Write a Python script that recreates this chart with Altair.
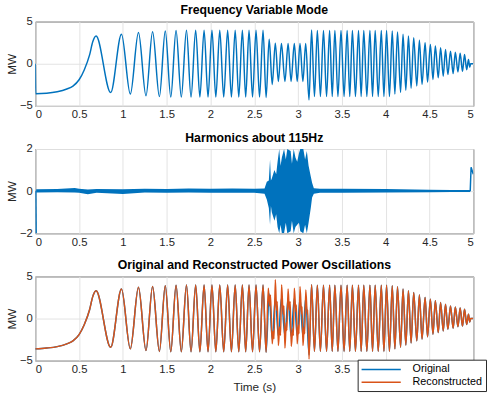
import altair as alt
import pandas as pd

BLUE = "#0072BD"
ORANGE = "#D95319"
FONT = "Liberation Sans"

# ---------------- Panel 1: Frequency variable mode -------------
rise_t = [0.0, 0.005, 0.13, 0.25, 0.36, 0.43, 0.50, 0.56, 0.62, 0.656]
rise_v = [0.0, -3.55, -3.5, -3.33, -3.0, -2.65, -1.9, -0.7, 1.05, 2.6]

peak_t = [0.694, 0.984, 1.178, 1.339, 1.484, 1.607, 1.726, 1.831, 1.927, 2.017,
          2.106, 2.196, 2.282, 2.364, 2.44, 2.52, 2.60, 2.67, 2.74, 2.81,
          2.886, 2.957, 3.022, 3.087, 3.154, 3.22, 3.29, 3.36, 3.42, 3.49,
          3.56, 3.62, 3.69, 3.75, 3.82, 3.88, 3.95, 4.01, 4.075, 4.135,
          4.198, 4.26, 4.32, 4.385, 4.45, 4.51, 4.567, 4.627, 4.683, 4.74,
          4.795, 4.85, 4.90, 4.945]
peak_v = [3.3, 3.5, 3.7, 3.8, 3.9, 3.95, 3.97, 3.97, 3.97, 3.97,
          3.97, 3.97, 3.97, 3.97, 3.97, 3.97, 3.97, 2.9, 2.45, 2.4,
          2.4, 2.4, 2.4, 2.4, 4.0, 3.95, 3.95, 3.95, 3.95, 3.95,
          3.95, 3.95, 3.95, 3.95, 3.95, 3.95, 3.95, 3.95, 3.9, 3.76,
          3.5, 3.3, 3.1, 2.8, 2.5, 2.3, 2.1, 1.9, 1.7, 1.5,
          1.36, 1.24, 1.1, 0.5]

trough_t = [0.861, 1.085, 1.264, 1.417, 1.547, 1.667, 1.778, 1.879, 1.972, 2.061,
            2.151, 2.239, 2.323, 2.402, 2.48, 2.56, 2.635, 2.705, 2.775, 2.85,
            2.92, 2.99, 3.055, 3.125, 3.187, 3.255, 3.325, 3.39, 3.455, 3.525,
            3.59, 3.655, 3.72, 3.785, 3.85, 3.915, 3.98, 4.043, 4.105, 4.17,
            4.23, 4.29, 4.355, 4.415, 4.478, 4.54, 4.60, 4.657, 4.71, 4.77,
            4.825, 4.877, 4.925, 4.96]
trough_v = [-3.42, -3.6, -3.8, -3.9, -3.95, -3.95, -3.95, -3.95, -3.95, -3.95,
            -3.95, -3.95, -3.95, -3.95, -3.95, -3.95, -4.0, -2.45, -2.1, -2.1,
            -2.1, -2.1, -2.1, -4.3, -3.9, -3.9, -3.9, -3.9, -3.9, -3.9,
            -3.9, -3.9, -3.9, -3.9, -3.9, -3.9, -3.9, -3.9, -3.6, -3.4,
            -3.14, -2.9, -2.64, -2.44, -2.17, -1.86, -1.66, -1.47, -1.28, -1.16,
            -0.97, -0.9, -0.7, -0.4]

tail_t = [4.97, 5.0]
tail_v = [0.0, 0.0]

# ---------------- Panel 2: Harmonics about 115 Hz (band envelope) -------------------
harm_t = [0.01, 0.25, 0.45, 0.5, 0.6, 0.7, 1.0, 1.25, 1.5, 1.75, 2.0, 2.25, 2.5,
          2.617, 2.643, 2.666, 2.68, 2.69, 2.70, 2.73, 2.75, 2.766, 2.785, 2.80,
          2.815, 2.84, 2.86, 2.877, 2.915, 2.93, 2.95, 2.97, 2.99, 3.01, 3.025,
          3.06, 3.08, 3.10, 3.12, 3.145, 3.16, 3.18, 3.25,
          3.5, 4.0, 4.5, 4.75, 4.965]
harm_hi = [0.09, 0.1, 0.15, 0.11, 0.08, 0.1, 0.09, 0.11, 0.1, 0.12, 0.11, 0.12, 0.11,
           0.13, 0.45, 0.5, 1.5, 0.5, 0.6, 1.0, 0.8, 1.4, 2.0, 1.2,
           1.6, 2.0, 1.5, 2.0, 1.9, 1.3, 2.0, 1.6, 1.4, 1.8, 2.0,
           2.0, 1.5, 1.9, 1.2, 0.7, 0.4, 0.14, 0.11,
           0.11, 0.1, 0.07, 0.06, 0.05]
harm_lo = [-0.06, -0.05, -0.06, -0.08, -0.15, -0.08, -0.13, -0.06, -0.08, -0.06, -0.08, -0.08, -0.08,
           -0.12, -0.4, -0.8, -1.6, -0.7, -1.0, -1.4, -1.1, -1.7, -2.0, -1.6,
           -2.0, -2.0, -1.5, -2.0, -1.9, -1.4, -2.0, -1.7, -1.6, -1.5, -1.9,
           -2.0, -1.6, -2.0, -1.5, -0.8, -0.3, -0.12, -0.08,
           -0.08, -0.06, -0.05, -0.04, -0.04]
harm_start_t = [0.006, 0.011]
harm_start_v = [0.02, -2.5]
harm_end_t = [4.965, 4.975, 5.0]
harm_end_v = [0.0, 1.13, 0.8]

# ---------------- Panel 3: reconstructed deviations in the disturbed window ----------
orig3_start_t = [0.0]
orig3_start_v = [-3.6]
recon_burst_t = [2.66, 2.675, 2.685, 2.705, 2.715, 2.725, 2.74, 2.755, 2.762, 2.775,
                 2.79, 2.80, 2.812, 2.83, 2.838, 2.85, 2.865, 2.872, 2.886, 2.90,
                 2.91, 2.922, 2.94, 2.946, 2.957, 2.975, 2.98, 2.99, 3.005, 3.01,
                 3.022, 3.04, 3.045, 3.056, 3.07, 3.075, 3.088, 3.105, 3.11, 3.125]
recon_burst_v = [3.6, 1.5, 2.8, -3.0, -1.5, -2.4, 4.6, 1.0, 2.0, -3.2,
                 -1.0, -2.0, 4.0, 0.5, 1.5, -3.5, -0.5, -1.4, 3.5, 1.0,
                 2.0, -3.3, -1.2, -2.0, 3.6, 0.8, 1.6, -3.0, -0.8, -1.8,
                 3.8, 0.5, 1.4, -3.2, -1.0, -1.8, 3.4, 0.5, 1.0, -4.8]

x_ticks = [0, 0.5, 1, 1.5, 2, 2.5, 3, 3.5, 4, 4.5, 5]


def mode_frame(with_spike=True):
    t = list(peak_t) + list(trough_t) + list(tail_t)
    v = list(peak_v) + list(trough_v) + list(tail_v)
    if with_spike:
        t += rise_t
        v += rise_v
    else:
        t += orig3_start_t + rise_t[2:]
        v += orig3_start_v + rise_v[2:]
    return pd.DataFrame({"t": t, "v": v}).sort_values("t").reset_index(drop=True)


W = 447
H = 86


def xenc(title=None, hide_from=None):
    kw = dict(values=x_ticks, format="~g", title=title, titlePadding=7, labelPadding=3)
    if hide_from is not None:
        # labels under the legend box are covered in the original figure
        kw["labelExpr"] = f"datum.value >= {hide_from} ? '' : datum.label"
    return alt.X("t:Q",
                 scale=alt.Scale(domain=[0, 5], nice=False, zero=False),
                 axis=alt.Axis(**kw))


def yaxis(ticks):
    return alt.Axis(values=ticks, title="MW", titlePadding=1, labelPadding=3)


TITLE_OFF = -1

# Panel 1
df1 = mode_frame(True)
p1 = alt.Chart(df1).mark_line(color=BLUE, strokeWidth=1.5, interpolate="monotone",
                              clip=True).encode(
    x=xenc(),
    y=alt.Y("v:Q", scale=alt.Scale(domain=[-5, 5], nice=False, zero=False),
            axis=yaxis([-5, 0, 5])),
    order="t:Q"
).properties(width=W, height=H,
             title=alt.Title("Frequency Variable Mode", offset=TITLE_OFF))

# Panel 2
df2 = pd.DataFrame({"t": harm_t, "hi": harm_hi, "lo": harm_lo})
edges = pd.DataFrame({
    "t": harm_start_t + harm_end_t,
    "v": harm_start_v + harm_end_v,
    "seg": ["a"] * len(harm_start_t) + ["b"] * len(harm_end_t),
})
band = alt.Chart(df2).mark_area(color=BLUE, clip=True, opacity=1).encode(
    x=xenc(),
    y=alt.Y("hi:Q", scale=alt.Scale(domain=[-2, 2], nice=False, zero=False),
            axis=yaxis([-2, 0, 2])),
    y2="lo:Q")
edge_lines = alt.Chart(edges).mark_line(color=BLUE, strokeWidth=1.5, clip=True).encode(
    x=xenc(), y=alt.Y("v:Q"), detail="seg:N", order="t:Q")
p2 = alt.layer(band, edge_lines).properties(
    width=W, height=H, title=alt.Title("Harmonics about 115Hz", offset=TITLE_OFF))

# Panel 3
orig = mode_frame(False)
orig["series"] = "Original"
mask = (orig["t"] < 2.655) | (orig["t"] > 3.13)
rec = pd.concat([orig[mask][["t", "v"]],
                 pd.DataFrame({"t": recon_burst_t, "v": recon_burst_v})])
rec = rec.sort_values("t").reset_index(drop=True)
rec["series"] = "Reconstructed"
df3 = pd.concat([orig, rec]).reset_index(drop=True)

p3 = alt.Chart(df3).mark_line(strokeWidth=1.5, interpolate="monotone", clip=True).encode(
    x=xenc("Time (s)", hide_from=4),
    y=alt.Y("v:Q", scale=alt.Scale(domain=[-5, 5], nice=False, zero=False),
            axis=yaxis([-5, 0, 5])),
    color=alt.Color("series:N",
                    scale=alt.Scale(domain=["Original", "Reconstructed"],
                                    range=[BLUE, ORANGE]),
                    legend=alt.Legend(orient="none", legendX=329, legendY=345,
                                      title=None, symbolType="M-4,0L4,0",
                                      symbolSize=100, symbolStrokeWidth=1.5,
                                      symbolOffset=14, labelOffset=26,
                                      labelFontSize=11, labelFont=FONT,
                                      labelColor="black",
                                      fillColor="white", strokeColor="#262626",
                                      padding=4, rowPadding=2)),
    order="t:Q"
).properties(width=W, height=H,
             title=alt.Title("Original and Reconstructed Power Oscillations",
                             offset=TITLE_OFF))

chart = alt.vconcat(p1, p2, p3, spacing=44, bounds="flush").properties(
    padding={"left": 5, "top": 0, "right": 0, "bottom": 0}
).configure_view(stroke="#262626", strokeWidth=1).configure_axis(
    labelFont=FONT, labelFontSize=11.5, labelColor="#262626",
    titleFont=FONT, titleFontSize=12, titleFontWeight="normal", titleColor="#262626",
    gridColor="#e2e2e2", gridWidth=1, domain=False, ticks=False
).configure_title(font=FONT, fontSize=12.5, fontWeight="bold", color="black",
                  anchor="middle")

chart.save("out.html", embed_options={"renderer": "svg", "actions": False})
